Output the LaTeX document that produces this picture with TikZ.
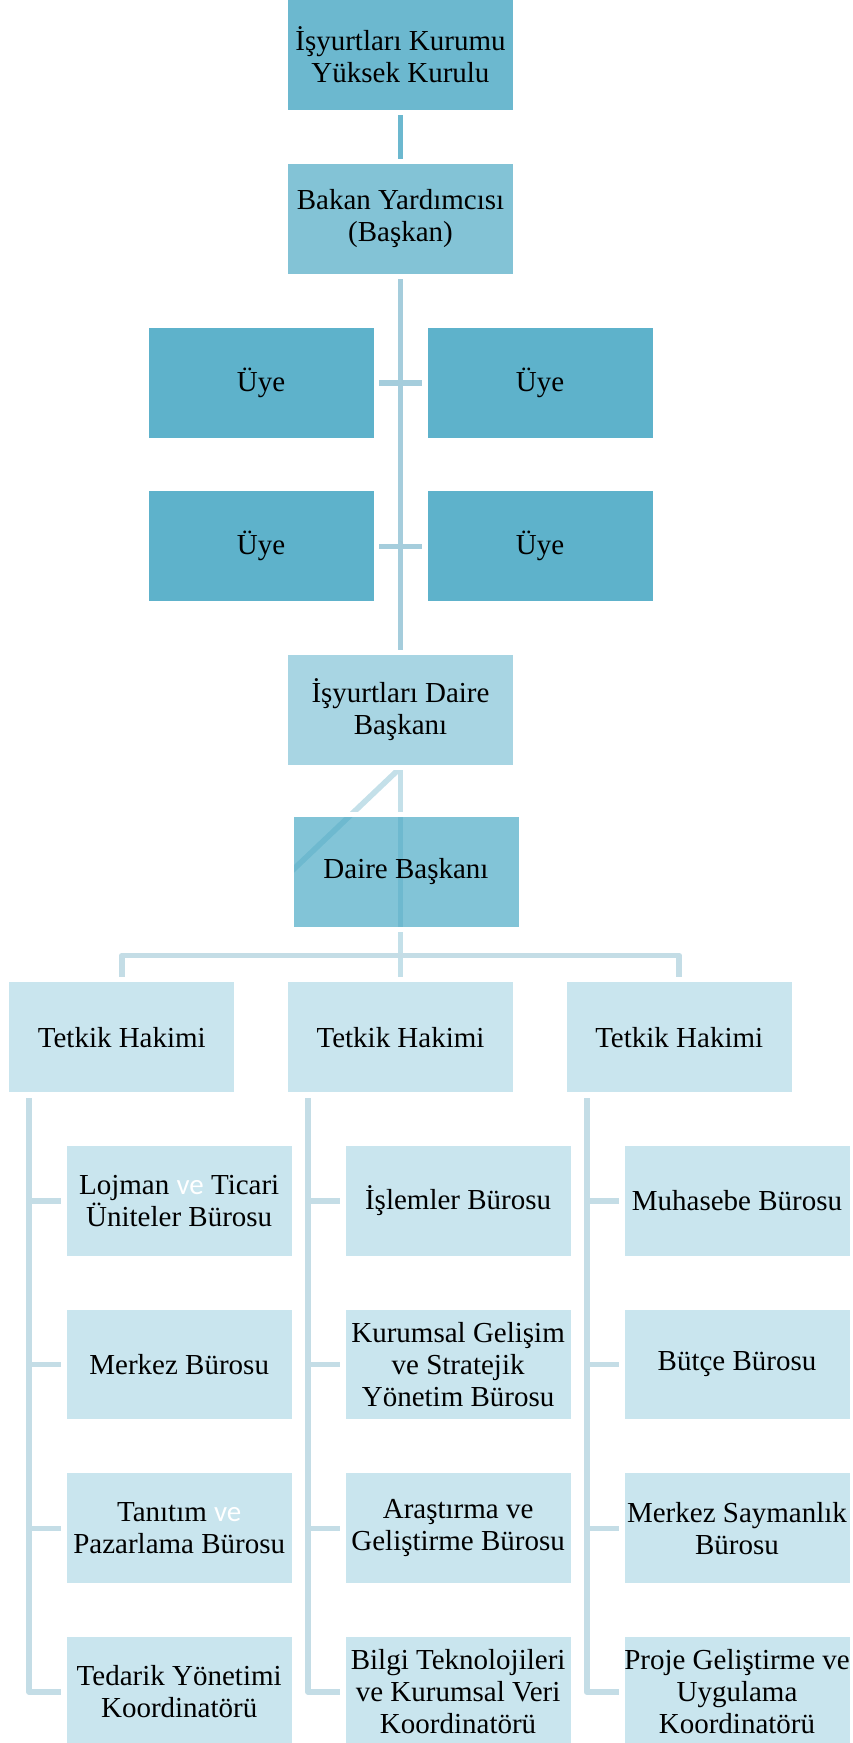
\documentclass[tikz,border=0pt]{standalone}
\usepackage{fontspec}
\setmainfont{Liberation Serif}
\newfontfamily\carlitofam{Carlito}
\usetikzlibrary{backgrounds}
\definecolor{kbox}{HTML}{6CB8CF}
\definecolor{bybox}{HTML}{83C3D6}
\definecolor{uyebox}{HTML}{5EB2CB}
\definecolor{idbbox}{HTML}{A8D5E3}
\definecolor{dbbox}{RGB}{66,166,194}
\definecolor{lowbox}{HTML}{C9E5EE}
\definecolor{lineA}{HTML}{6CB8CF}
\definecolor{lineB}{HTML}{A5CDDC}
\definecolor{lineC}{HTML}{C4E0E9}
\definecolor{lineD}{HTML}{C4DDE6}
\newcommand{\whiteve}{{\carlitofam\color{white}ve}}
\tikzset{
  box/.style={rectangle, draw=white, line width=5.6pt, outer sep=0pt, inner sep=0pt,
    minimum width=230.6pt, minimum height=115.3pt, align=center, text=black,
    font=\fontsize{29}{32}\selectfont},
  conn/.style={line width=5.6pt, line cap=butt, line join=round},
}
\begin{document}
\begin{tikzpicture}[x=1pt,y=-1pt]
\useasboundingbox (0,0) rectangle (852,1743);
\clip (0,0) rectangle (852,1743);
% top part
\node[box, fill=kbox] (k) at (400.5,55) {İşyurtları Kurumu\\Yüksek Kurulu};
\node[box, fill=bybox] (by) at (400.5,219) {Bakan Yardımcısı\\(Başkan)};
\node[box, fill=uyebox] (u1) at (261,382.7) {Üye};
\node[box, fill=uyebox] (u2) at (540,382.7) {Üye};
\node[box, fill=uyebox] (u3) at (261,546.3) {Üye};
\node[box, fill=uyebox] (u4) at (540,546.3) {Üye};
\node[box, fill=idbbox] (idb) at (400.5,710) {İşyurtları Daire\\Başkanı};
\node[box, fill=dbbox, fill opacity=0.66, text opacity=1, draw opacity=1] (db) at (406,872) {Daire Başkanı};
% Tetkik
\node[box, fill=lowbox] (t1) at (121.8,1037.3) {Tetkik Hakimi};
\node[box, fill=lowbox] (t2) at (400.5,1037.3) {Tetkik Hakimi};
\node[box, fill=lowbox] (t3) at (679.2,1037.3) {Tetkik Hakimi};
% column 1
\node[box, fill=lowbox] (a1) at (179.2,1200.8) {Lojman \whiteve{} Ticari\\Üniteler Bürosu};
\node[box, fill=lowbox] (a2) at (179.2,1364.5) {Merkez Bürosu};
\node[box, fill=lowbox] (a3) at (179.2,1528.3) {Tanıtım \whiteve\\Pazarlama Bürosu};
\node[box, fill=lowbox] (a4) at (179.2,1692) {Tedarik Yönetimi\\Koordinatörü};
% column 2
\node[box, fill=lowbox] (b1) at (458.1,1200.8) {İşlemler Bürosu};
\node[box, fill=lowbox] (b2) at (458.1,1364.5) {Kurumsal Gelişim\\ve Stratejik\\Yönetim Bürosu};
\node[box, fill=lowbox] (b3) at (458.1,1528.3) {Araştırma ve\\Geliştirme Bürosu};
\node[box, fill=lowbox] (b4) at (458.1,1692) {Bilgi Teknolojileri\\ve Kurumsal Veri\\Koordinatörü};
% column 3
\node[box, fill=lowbox] (c1) at (737,1200.8) {Muhasebe Bürosu};
\node[box, fill=lowbox] (c2) at (737,1364.5) {Bütçe Bürosu};
\node[box, fill=lowbox] (c3) at (737,1528.3) {Merkez Saymanlık\\Bürosu};
\node[box, fill=lowbox] (c4) at (737,1692) {Proje Geliştirme ve\\Uygulama\\Koordinatörü};
\coordinate (bar) at (400.5,955.5);
\coordinate (s1) at ([xshift=-92.8pt]t1.south);
\coordinate (s2) at ([xshift=-92.5pt]t2.south);
\coordinate (s3) at ([xshift=-92.5pt]t3.south);
\begin{pgfonlayer}{background}
\draw[conn, lineA] (k) -- (by);
\draw[conn, lineB] (by) -- (idb);
\draw[conn, lineB] (u1) -- (u2);
\draw[conn, lineB] (u3) -- (u4);
\draw[conn, lineC] (idb.south) -- (t2.north);
\draw[conn, lineC] (idb.south) -- (db.west);
\draw[conn, lineD] (t1.north) |- (bar) -| (t3.north);
\draw[conn, lineD] (s1) |- (a4.west);
\draw[conn, lineD] (s1 |- a1.west) -- (a1.west);
\draw[conn, lineD] (s1 |- a2.west) -- (a2.west);
\draw[conn, lineD] (s1 |- a3.west) -- (a3.west);
\draw[conn, lineD] (s2) |- (b4.west);
\draw[conn, lineD] (s2 |- b1.west) -- (b1.west);
\draw[conn, lineD] (s2 |- b2.west) -- (b2.west);
\draw[conn, lineD] (s2 |- b3.west) -- (b3.west);
\draw[conn, lineD] (s3) |- (c4.west);
\draw[conn, lineD] (s3 |- c1.west) -- (c1.west);
\draw[conn, lineD] (s3 |- c2.west) -- (c2.west);
\draw[conn, lineD] (s3 |- c3.west) -- (c3.west);
\end{pgfonlayer}
\end{tikzpicture}
\end{document}
